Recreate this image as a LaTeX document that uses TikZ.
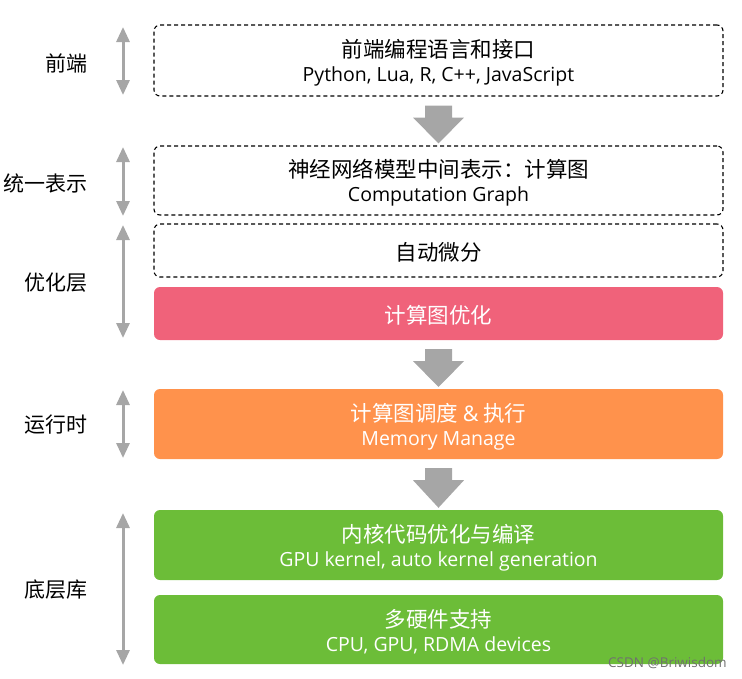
\documentclass[tikz,border=0pt]{standalone}
\usepackage{fontspec}
\setmainfont{Noto Sans CJK SC}
\newfontfamily\latfont{Open Sans}
\usetikzlibrary{arrows.meta,calc}
\definecolor{cred}{HTML}{F0627A}
\definecolor{corange}{HTML}{FF924C}
\definecolor{cgreen}{HTML}{6CBD38}
\definecolor{cgray}{HTML}{A6A6A6}
\definecolor{wmgray}{HTML}{707070}
\begin{document}
\begin{tikzpicture}[x=1pt,y=-1pt,
  box/.style={minimum width=569pt, rounded corners=6pt, inner sep=0pt},
  dbox/.style={box, draw=black, line width=1.1pt, dash pattern=on 4pt off 3pt},
  fbox/.style={box},
  tt/.style={font=\fontsize{21.5}{24}\selectfont, align=center, inner sep=0pt},
  wt/.style={tt, text=white},
  lab/.style={anchor=east, font=\fontsize{21}{24}\selectfont, inner sep=0pt},
  side/.style={cgray, line width=3pt, {Triangle[width=13pt,length=15pt]}-{Triangle[width=13pt,length=15pt]}},
  blk/.style={fill=cgray, draw=none}
]
\useasboundingbox (0,0) rectangle (742,678);
\newcommand{\sub}[1]{\\[0pt]{\latfont\fontsize{19.5}{22}\selectfont #1}}
% boxes
\node[dbox, minimum height=71pt] (b1) at (438.5,60.5) {};
\node[dbox, minimum height=69pt] (b2) at (438.5,180.5) {};
\node[dbox, minimum height=53pt] (b3) at (438.5,250.5) {};
\node[fbox, fill=cred, minimum height=53pt] (b4) at (438.5,313.5) {};
\node[fbox, fill=corange, minimum height=70pt] (b5) at (438.5,424) {};
\node[fbox, fill=cgreen, minimum height=70pt] (b6) at (438.5,545) {};
\node[fbox, fill=cgreen, minimum height=69pt] (b7) at (438.5,629.5) {};
% box texts
\node[tt] (t1) at ($(b1.center)+(0,2.5)$) {前端编程语言和接口\sub{Python, Lua, R, C++, JavaScript}};
\node[tt] (t2) at ($(b2.center)+(0,2.5)$) {神经网络模型中间表示：计算图\sub{Computation Graph}};
\node[tt] (t3) at ($(b3.center)+(0,2)$) {自动微分};
\node[wt] (t4) at ($(b4.center)+(0,2)$) {计算图优化};
\node[wt] (t5) at ($(b5.center)+(0,2.5)$) {计算图调度 {\latfont\&} 执行\sub{Memory Manage}};
\node[wt] (t6) at ($(b6.center)+(0,2.5)$) {内核代码优化与编译\sub{GPU kernel, auto kernel generation}};
\node[wt] (t7) at ($(b7.center)+(0,2.5)$) {多硬件支持\sub{CPU, GPU, RDMA devices}};
% block arrows
\foreach \s/\t in {b1/b2,b4/b5,b5/b6}{
  \fill[blk] ($(\s.south)+(-13.5,9)$) -- ($(\s.south)+(13.5,9)$) -- ($(\s.south)+(13.5,21)$)
    -- ($(\s.south)+(25.5,21)$) -- ($(\t.north)+(0,-2)$) -- ($(\s.south)+(-25.5,21)$)
    -- ($(\s.south)+(-13.5,21)$) -- cycle;
}
% side labels
\node[lab] (l1) at (88,63) {前端};
\node[lab] (l2) at (88,183) {统一表示};
\node[lab] (l3) at (88,283) {优化层};
\node[lab] (l4) at (88,425) {运行时};
\node[lab] (l5) at (88,590) {底层库};
% side arrows
\coordinate (s1a) at (123,27); \coordinate (s1b) at (123,95);
\coordinate (s2a) at (123,147); \coordinate (s2b) at (123,216);
\coordinate (s3a) at (123,225); \coordinate (s3b) at (123,338);
\coordinate (s4a) at (123,390); \coordinate (s4b) at (123,458);
\coordinate (s5a) at (123,513); \coordinate (s5b) at (123,665);
\foreach \i in {1,...,5}{\draw[side] (s\i a) -- (s\i b);}
% watermark
\node[anchor=east, text=wmgray, font=\latfont\fontsize{13.5}{15}\selectfont, inner sep=0pt] (wm) at (727,663) {CSDN @Briwisdom};
\end{tikzpicture}
\end{document}
